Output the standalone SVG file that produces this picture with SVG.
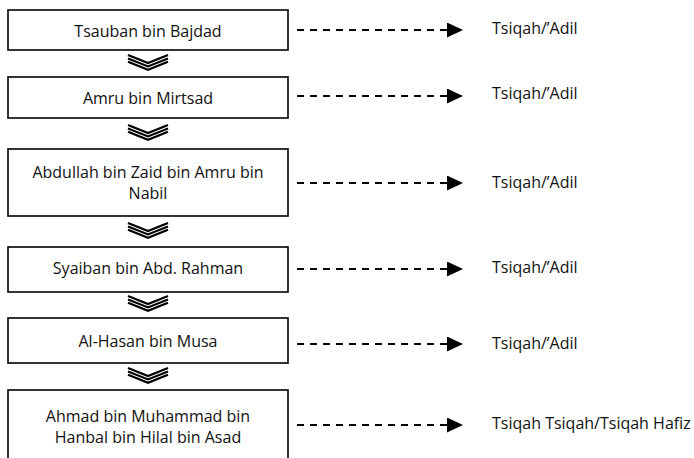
<svg xmlns="http://www.w3.org/2000/svg" width="694" height="458" viewBox="0 0 694 458">
<defs>
<style>
.box{fill:#fff;stroke:#000;stroke-width:1.6}
.t{font-family:"Open Sans","Noto Sans",sans-serif;font-size:16px;fill:#111}
.c{text-anchor:middle}
.dash{fill:none;stroke:#000;stroke-width:1.8;stroke-dasharray:7 6}
.chev{fill:none;stroke:#000;stroke-width:2.2;stroke-linejoin:miter}
</style>
<g id="chevron">
<polyline class="chev" points="-20,-8 0,0 20,-8"/>
<polyline class="chev" points="-20,-4.6 0,3.4 20,-4.6"/>
<polyline class="chev" points="-20,-1.2 0,6.8 20,-1.2"/>
</g>
<marker id="ah" markerWidth="17" markerHeight="16" refX="0" refY="7.5" orient="auto" markerUnits="userSpaceOnUse">
<polygon points="0,0 16,7.5 0,15" fill="#000"/>
</marker>
</defs>
<rect width="694" height="458" fill="#fff"/>

<g id="node1">
<rect class="box" x="8" y="10" width="280" height="40"/>
<text class="t c" x="148" y="37">Tsauban bin Bajdad</text>
</g>
<g id="node2">
<rect class="box" x="8" y="77" width="280" height="41"/>
<text class="t c" x="148" y="104">Amru bin Mirtsad</text>
</g>
<g id="node3">
<rect class="box" x="8" y="149" width="280" height="67"/>
<text class="t c" x="148" y="178">Abdullah bin Zaid bin Amru bin</text>
<text class="t c" x="148" y="199">Nabil</text>
</g>
<g id="node4">
<rect class="box" x="8" y="247" width="280" height="45"/>
<text class="t c" x="148" y="274">Syaiban bin Abd. Rahman</text>
</g>
<g id="node5">
<rect class="box" x="8" y="318" width="280" height="45"/>
<text class="t c" x="148" y="347">Al-Hasan bin Musa</text>
</g>
<g id="node6">
<rect class="box" x="8" y="390" width="280" height="80"/>
<text class="t c" x="148" y="422">Ahmad bin Muhammad bin</text>
<text class="t c" x="148" y="443">Hanbal bin Hilal bin Asad</text>
</g>

<g id="labels">
<text class="t" x="492" y="34">Tsiqah/’Adil</text>
<text class="t" x="492" y="99">Tsiqah/’Adil</text>
<text class="t" x="492" y="188">Tsiqah/’Adil</text>
<text class="t" x="492" y="273">Tsiqah/’Adil</text>
<text class="t" x="492" y="349">Tsiqah/’Adil</text>
<text class="t" x="492" y="429">Tsiqah Tsiqah/Tsiqah Hafiz</text>
</g>

<g id="connectors">
<use href="#chevron" x="148" y="63"/>
<use href="#chevron" x="148" y="133"/>
<use href="#chevron" x="148" y="231"/>
<use href="#chevron" x="148" y="304"/>
<use href="#chevron" x="148" y="376"/>
<line class="dash" x1="297" y1="30" x2="447" y2="30" marker-end="url(#ah)"/>
<line class="dash" x1="297" y1="96" x2="447" y2="96" marker-end="url(#ah)"/>
<line class="dash" x1="297" y1="183" x2="447" y2="183" marker-end="url(#ah)"/>
<line class="dash" x1="297" y1="269" x2="447" y2="269" marker-end="url(#ah)"/>
<line class="dash" x1="297" y1="344" x2="447" y2="344" marker-end="url(#ah)"/>
<line class="dash" x1="297" y1="425" x2="447" y2="425" marker-end="url(#ah)"/>
</g>
</svg>
